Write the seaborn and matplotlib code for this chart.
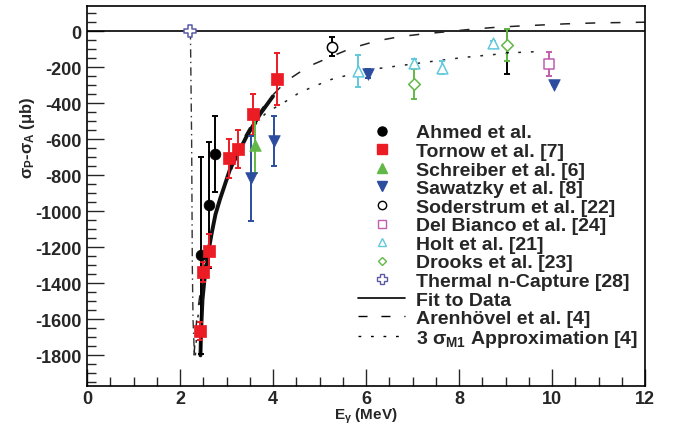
#!/usr/bin/env python3
"""Polarization difference sigma_P - sigma_A vs photon energy, with fits."""

import matplotlib

matplotlib.use("Agg")
import matplotlib.pyplot as plt
import pandas as pd
import seaborn as sns
from matplotlib.lines import Line2D
from matplotlib.ticker import MultipleLocator

# ---- measured points (E_gamma in MeV, value in microbarn, symmetric error) ----
AHMED_E = [2.45, 2.63, 2.75]
AHMED_V = [-1245, -965, -682]
AHMED_ERR = [549, 350, 211]

TORNOW_E = [2.42, 2.50, 2.63, 3.05, 3.25, 3.56, 4.08]
TORNOW_V = [-1663, -1335, -1220, -706, -656, -461, -266]
TORNOW_ERR = [50, 55, 92, 110, 105, 115, 145]

SCHREIBER_E = [3.61]
SCHREIBER_V = [-632]
SCHREIBER_ERR = [155]

SAWATZKY_E = [3.53, 4.03, 6.04, 10.04]
SAWATZKY_V = [-817, -609, -235, -300]
SAWATZKY_ERR = [235, 140, 25, 0]

SODERSTRUM_E = [5.26]
SODERSTRUM_V = [-85]
SODERSTRUM_ERR = [55]

DELBIANCO_E = [9.94]
DELBIANCO_V = [-183]
DELBIANCO_ERR = [65]

HOLT_E = [5.83, 7.03, 7.64, 8.74]
HOLT_V = [-220, -174, -202, -67]
HOLT_ERR = [90, 20, 35, 10]

DROOKS_E = [7.04, 9.04]
DROOKS_V = [-294, -78]
DROOKS_ERR = [83, 88]
DROOKS_SYS_E = [9.04]
DROOKS_SYS_V = [-115]
DROOKS_SYS_ERR = [125]

THERMAL_E = [2.224]
THERMAL_V = [0]

# ---- curves ----
FIT_E = [2.44, 2.452, 2.484, 2.538, 2.602, 2.677, 2.763, 2.86, 3.075, 3.434, 3.72, 4.0]
FIT_V = [-1800, -1672, -1489, -1350, -1239, -1128, -1017, -933, -767, -583, -461, -361]

AREN_E = [2.30, 2.36, 2.45, 2.58, 2.75, 3.0, 3.3, 3.6, 3.9, 4.29, 4.76, 5.26, 5.69,
          6.23, 6.73, 7.23, 7.77, 8.27, 8.81, 9.31, 9.81, 10.3, 10.95, 11.46, 12.0]
AREN_V = [-1800, -1600, -1420, -1230, -1030, -820, -625, -490, -380, -276, -196, -140, -94,
          -54, -30, -15, -2, 11, 22, 29, 35, 41, 46, 48, 50]

M1_E = [2.33, 2.38, 2.46, 2.58, 2.75, 2.95, 3.15, 3.4, 3.68, 3.86, 4.29, 4.55, 4.8,
        5.26, 5.55, 6.3, 7.38, 8.09, 9.17, 9.71]
M1_V = [-1800, -1600, -1420, -1230, -1040, -870, -740, -600, -498, -452, -387, -344, -315,
        -267, -248, -206, -169, -146, -119, -113]

THERMAL_LINE_E = [2.224, 2.25, 2.265, 2.28, 2.31]
THERMAL_LINE_V = [0, -600, -1300, -1600, -1800]

RED = "#ec1c24"
GREEN = "#62b846"
BLUE = "#2b4c9f"
CYAN = "#62c8dc"
MAGENTA = "#c15cb0"
PURPLE = "#5a5aa8"


def draw_points(ax, e, v, err, marker, size, color, open_marker=False, ecolor=None):
    ax.errorbar(e, v, yerr=err, fmt="none", ecolor=ecolor or color,
                elinewidth=1.4, capsize=2.5, capthick=1.4, zorder=3)
    df = pd.DataFrame({"E": e, "v": v})
    if open_marker:
        sns.scatterplot(data=df, x="E", y="v", marker=marker, s=size, color=color,
                        facecolor="white", edgecolor=color, linewidth=1.1, ax=ax, zorder=4)
    else:
        sns.scatterplot(data=df, x="E", y="v", marker=marker, s=size, color=color,
                        edgecolor=color, linewidth=0.5, ax=ax, zorder=4)


def main():
    sns.set_style("ticks")
    plt.rcParams["font.family"] = ["Liberation Sans", "DejaVu Sans"]
    plt.rcParams["font.weight"] = "bold"
    plt.rcParams["axes.unicode_minus"] = False
    plt.rcParams["mathtext.fontset"] = "custom"
    plt.rcParams["mathtext.rm"] = "Liberation Sans:bold"
    plt.rcParams["mathtext.it"] = "Liberation Sans:bold"
    plt.rcParams["mathtext.bf"] = "Liberation Sans:bold"

    fig = plt.figure(figsize=(6.76, 4.27), dpi=100)
    ax = fig.add_axes([87 / 676, 1 - 387 / 427, 558 / 676, 380 / 427])

    ax.axhline(0, color="black", lw=1.2, zorder=1)

    # curves
    sns.lineplot(x=THERMAL_LINE_E, y=THERMAL_LINE_V, sort=False, estimator=None,
                 color="#333333", lw=1.0, dashes=False, ax=ax, zorder=2)
    ax.lines[-1].set_linestyle((0, (6, 3, 1, 3)))
    sns.lineplot(x=M1_E, y=M1_V, sort=False, estimator=None, color="#222222",
                 lw=1.1, ax=ax, zorder=2)
    ax.lines[-1].set_linestyle((0, (1.8, 6.5)))
    sns.lineplot(x=AREN_E, y=AREN_V, sort=False, estimator=None, color="#222222",
                 lw=1.1, ax=ax, zorder=2)
    ax.lines[-1].set_linestyle((0, (6.5, 10)))
    sns.lineplot(x=FIT_E, y=FIT_V, sort=False, estimator=None, color="#111111",
                 lw=2.8, ax=ax, zorder=2)

    # data sets
    draw_points(ax, DROOKS_SYS_E, DROOKS_SYS_V, DROOKS_SYS_ERR, "D", 1, "black")
    draw_points(ax, AHMED_E, AHMED_V, AHMED_ERR, "o", 60, "black")
    draw_points(ax, TORNOW_E, TORNOW_V, TORNOW_ERR, "s", 75, RED)
    draw_points(ax, SCHREIBER_E, SCHREIBER_V, SCHREIBER_ERR, "^", 70, GREEN)
    draw_points(ax, SAWATZKY_E, SAWATZKY_V, SAWATZKY_ERR, "v", 70, BLUE)
    draw_points(ax, SODERSTRUM_E, SODERSTRUM_V, SODERSTRUM_ERR, "o", 55, "black", True)
    draw_points(ax, DELBIANCO_E, DELBIANCO_V, DELBIANCO_ERR, "s", 60, MAGENTA, True)
    draw_points(ax, HOLT_E, HOLT_V, HOLT_ERR, "^", 60, CYAN, True)
    draw_points(ax, DROOKS_E, DROOKS_V, DROOKS_ERR, "D", 35, GREEN, True)
    draw_points(ax, THERMAL_E, THERMAL_V, [0], "P", 70, PURPLE, True)

    ax.set_xlim(0, 12)
    ax.set_ylim(-1970, 140)
    ax.xaxis.set_major_locator(MultipleLocator(2))
    ax.xaxis.set_minor_locator(MultipleLocator(0.5))
    ax.yaxis.set_major_locator(MultipleLocator(200))
    ax.yaxis.set_minor_locator(MultipleLocator(50))
    ax.set_yticks(range(-1800, 1, 200))
    ax.tick_params(axis="both", which="both", direction="in", labelsize=13, width=1.0,
                   top=False, right=False)
    ax.tick_params(axis="both", which="major", length=12, pad=4)
    ax.tick_params(axis="x", which="major", pad=3)
    ax.tick_params(axis="both", which="minor", length=6.5)
    for spine in ax.spines.values():
        spine.set_linewidth(1.2)
        spine.set_color("black")
        spine.set_visible(True)

    ax.set_xlabel(r"E$_{\gamma}$ (MeV)", fontsize=11, fontweight="bold", va="center")
    ax.xaxis.set_label_coords(0.5, -0.078)
    ax.set_ylabel(r"$\sigma_{P}$-$\sigma_{A}$ ($\mu$b)", fontsize=12, fontweight="bold",
                  va="center")
    ax.yaxis.set_label_coords(-0.107, 0.655)

    handles = [
        Line2D([], [], ls="none", marker="o", ms=6.5, color="black"),
        Line2D([], [], ls="none", marker="s", ms=6.5, color=RED),
        Line2D([], [], ls="none", marker="^", ms=6.5, color=GREEN),
        Line2D([], [], ls="none", marker="v", ms=6.5, color=BLUE),
        Line2D([], [], ls="none", marker="o", ms=6, mfc="white", mec="black"),
        Line2D([], [], ls="none", marker="s", ms=6, mfc="white", mec=MAGENTA),
        Line2D([], [], ls="none", marker="^", ms=6, mfc="white", mec=CYAN),
        Line2D([], [], ls="none", marker="D", ms=4.5, mfc="white", mec=GREEN),
        Line2D([], [], ls="none", marker="P", ms=7, mfc="white", mec=PURPLE),
        Line2D([], [], color="black", lw=1.2),
        Line2D([], [], color="black", lw=1.0, ls=(0, (6.5, 10))),
        Line2D([], [], color="black", lw=1.0, ls=(0, (2, 7))),
    ]
    labels = [
        "Ahmed et al.",
        "Tornow et al. [7]",
        "Schreiber et al. [6]",
        "Sawatzky et al. [8]",
        "Soderstrum et al. [22]",
        "Del Bianco et al. [24]",
        "Holt et al. [21]",
        "Drooks et al. [23]",
        "Thermal n-Capture [28]",
        "Fit to Data",
        "Arenhövel et al. [4]",
        r"3 $\sigma_{M1}$ Approximation [4]",
    ]
    ax.legend(handles, labels, loc="upper left", bbox_to_anchor=(0.486, 0.69),
              frameon=False, borderpad=0, borderaxespad=0, handlelength=2.4,
              handletextpad=0.55, labelspacing=0.05, prop={"size": 14, "weight": "bold"})

    fig.patch.set_facecolor("white")
    fig.savefig("out.png", dpi=100)
    plt.close(fig)


if __name__ == "__main__":
    main()
